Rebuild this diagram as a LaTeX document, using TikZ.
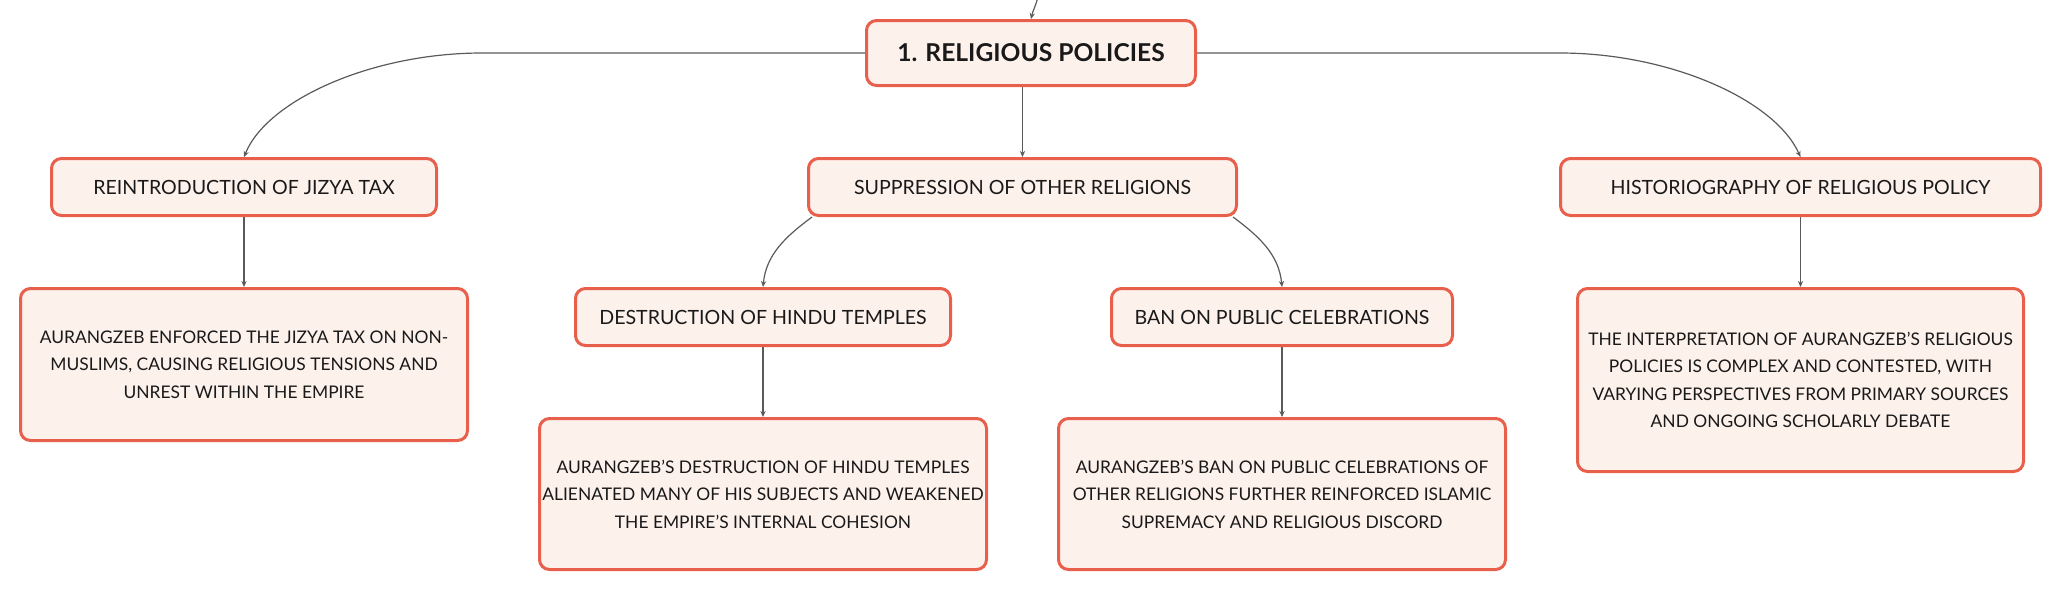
\documentclass[tikz,border=0pt]{standalone}
\usepackage{fontspec}
\setmainfont{Lato}
\usetikzlibrary{arrows.meta,backgrounds}
\definecolor{boxred}{HTML}{E8604C}
\definecolor{boxfill}{HTML}{FDF1EC}
\definecolor{linkgray}{HTML}{5A5A5A}

\begin{document}
\begin{tikzpicture}[x=0.5pt,y=-0.5pt,
    box/.style={draw=boxred,fill=boxfill,line width=1.5pt,rounded corners=5pt,align=center,inner sep=0pt,text=black!90},
    topic/.style={box,font=\fontsize{9.8}{12}\selectfont,minimum height=28.5pt},
    detail/.style={box,font=\fontsize{8.7}{13.75}\selectfont,minimum width=223.5pt,minimum height=75.5pt},
    link/.style={draw=linkgray,line width=0.6pt,-{Stealth[length=3pt,width=2.6pt]}}]
  \useasboundingbox (0,0) rectangle (2063,591);
  % main topic and its three branches
  \node[box,font=\fontsize{12.3}{14}\selectfont\bfseries,minimum width=164.5pt,minimum height=32.5pt] (root) at (1031,53) {1. RELIGIOUS POLICIES};
  \node[topic,minimum width=192.5pt] (jizya) at (244,187) {REINTRODUCTION OF JIZYA TAX};
  \node[topic,minimum width=214pt] (supp) at (1022.5,187) {SUPPRESSION OF OTHER RELIGIONS};
  \node[topic,minimum width=240pt] (hist) at (1800.5,187) {HISTORIOGRAPHY OF RELIGIOUS POLICY};
  \node[topic,minimum width=187.5pt] (destr) at (763,317) {DESTRUCTION OF HINDU TEMPLES};
  \node[topic,minimum width=170.5pt] (ban) at (1282,317) {BAN ON PUBLIC CELEBRATIONS};
  % details
  \node[detail,minimum height=76pt] (jizyadesc) at (244,364.5) {AURANGZEB ENFORCED THE JIZYA TAX ON NON-\\MUSLIMS, CAUSING RELIGIOUS TENSIONS AND\\UNREST WITHIN THE EMPIRE};
  \node[detail] (destrdesc) at (763,494) {AURANGZEB'S DESTRUCTION OF HINDU TEMPLES\\ALIENATED MANY OF HIS SUBJECTS AND WEAKENED\\THE EMPIRE'S INTERNAL COHESION};
  \node[detail] (bandesc) at (1282,494) {AURANGZEB'S BAN ON PUBLIC CELEBRATIONS OF\\OTHER RELIGIONS FURTHER REINFORCED ISLAMIC\\SUPREMACY AND RELIGIOUS DISCORD};
  \node[detail,minimum width=223pt,minimum height=91.5pt] (histdesc) at (1800.5,380) {THE INTERPRETATION OF AURANGZEB'S RELIGIOUS\\POLICIES IS COMPLEX AND CONTESTED, WITH\\VARYING PERSPECTIVES FROM PRIMARY SOURCES\\AND ONGOING SCHOLARLY DEBATE};
  \coordinate (parent) at (1040,-10);
  \begin{scope}[on background layer]
    \draw[link] (parent) .. controls (1036,6) and (1033,10) .. (root.north);
    \draw[link] (root.center) -- (482,53) .. controls (372,53) and (267,100) .. (jizya.north);
    \draw[link] (root.center) -- (1560,53) .. controls (1670,53) and (1775,100) .. (hist.north);
    \draw[link] (root.south -| supp.north) -- (supp.north);
    \draw[link] ([xshift=2.5pt]supp.south west) .. controls (785,237) and (766,255) .. (destr.north);
    \draw[link] ([xshift=-2.5pt]supp.south east) .. controls (1260,237) and (1279,255) .. (ban.north);
    \draw[link] (jizya) -- (jizyadesc);
    \draw[link] (destr) -- (destrdesc);
    \draw[link] (ban) -- (bandesc);
    \draw[link] (hist) -- (histdesc);
  \end{scope}
\end{tikzpicture}
\end{document}
